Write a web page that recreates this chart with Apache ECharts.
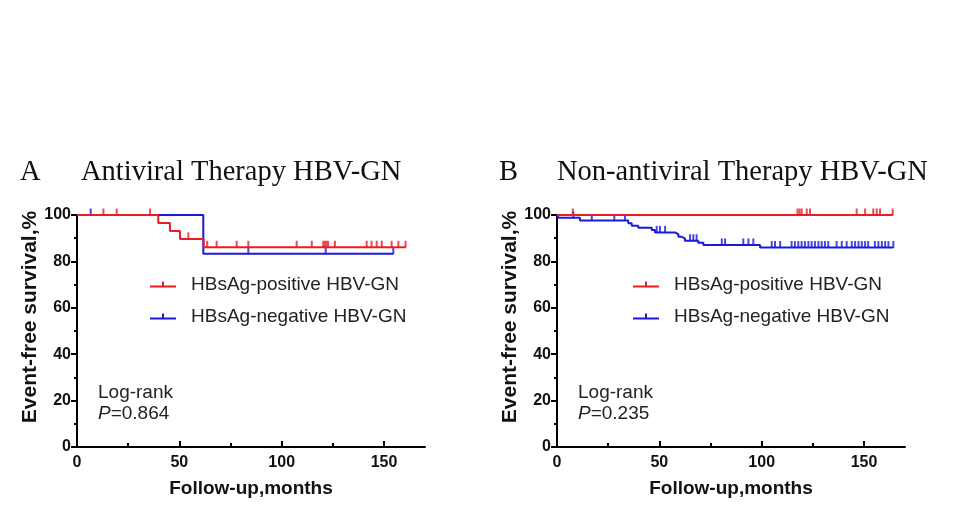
<!DOCTYPE html>
<html>
<head>
<meta charset="utf-8">
<script src="https://cdn.jsdelivr.net/npm/echarts@6/dist/echarts.min.js"></script>
<style>html,body{margin:0;padding:0;background:#fff;}#c{width:960px;height:516px;}</style>
</head>
<body>
<div id="c"></div>
<script>
// ---------- data ----------
const xMajorTicks = [0, 50, 100, 150];
const xMinorTicks = [25, 75, 125];
const seriesNames = ['HBsAg-positive HBV-GN', 'HBsAg-negative HBV-GN'];
const panelTitles = ['Antiviral Therapy HBV-GN', 'Non-antiviral Therapy HBV-GN'];
const panelLetters = ['A', 'B'];
const pValues = ['0.864', '0.235'];

// Panel A (antiviral)
const aPosTimes = [0, 39.7, 45.4, 50.3, 61.9, 160.5];
const aPosSurv  = [100, 96.6, 93.1, 89.7, 86.1, 86.1];
const aPosCensor = [12.9, 19.4, 35.7, 54.4, 63.6, 68.2, 78, 83.7, 107.3, 114.7, 120.3, 121.1, 121.9, 122.7, 126, 141.5, 143.9, 146.4, 148.9, 153.7, 157, 160.5];
const aNegTimes = [0, 61.7, 154.5];
const aNegSurv  = [100, 83.3, 83.3];
const aNegCensor = [6.7, 83.7, 121.5, 154.5];

// Panel B (non-antiviral)
const bPosTimes = [0, 164];
const bPosSurv  = [100, 100];
const bPosCensor = [7.7, 117.5, 118.5, 119.5, 122, 123.6, 146.4, 150.5, 154.5, 156.2, 157.8, 164];
const bNegTimes = [0, 0.8, 11.2, 34.8, 36.5, 39.7, 46.3, 47.9, 57.6, 59.3, 60.9, 62.5, 69.0, 71.5, 99.2, 164.3];
const bNegSurv  = [100, 98.8, 97.6, 96.4, 95.4, 94.5, 93.5, 92.5, 91.7, 90.6, 89.9, 88.9, 88.0, 87.1, 86.0, 86.0];
const bNegCensor = [8, 17, 28, 33.2, 48.7, 50.3, 52.8, 65, 66.6, 68.2, 80.5, 82.1, 91, 93.5, 95.9, 104.9, 106.5, 109, 114.6, 116.2, 117.9, 119.5, 121.1, 122.8, 124.4, 126, 127.7, 129.3, 130.9, 132.5, 136.6, 139.1, 141.5, 144, 145.6, 147.3, 148.9, 150.5, 152, 155.3, 157, 158.7, 160.3, 161.9, 164.3];

// ---------- helpers ----------
const RED = '#ec1c24';
const BLUE = '#1a1ad8';
const SANS = 'Liberation Sans, Arial, Helvetica, sans-serif';
const SERIF = 'Liberation Serif, Times New Roman, serif';

function pairs(times, surv) { return times.map((t, i) => [t, surv[i]]); }
function survAt(times, surv, t) {
  let s = surv[0];
  for (let i = 0; i < times.length; i++) { if (times[i] <= t) s = surv[i]; }
  return s;
}
function censorPts(times, surv, cens) { return cens.map(t => [t, survAt(times, surv, t)]); }

const panels = [
  { pos: [aPosTimes, aPosSurv, aPosCensor], neg: [aNegTimes, aNegSurv, aNegCensor] },
  { pos: [bPosTimes, bPosSurv, bPosCensor], neg: [bNegTimes, bNegSurv, bNegCensor] }
];

const gridLefts = [77, 557];
const grids = gridLefts.map(l => ({ left: l, top: 215, width: 348, height: 232, containLabel: false }));

const axisLineStyle = { color: '#000', width: 2 };
const xAxes = [], yAxes = [], series = [];
panels.forEach((p, g) => {
  xAxes.push({
    gridIndex: g, type: 'value', min: 0, max: 170, interval: 50, position: 'bottom',
    axisLine: { show: true, onZero: false, lineStyle: axisLineStyle },
    axisTick: { show: true, inside: true, length: 6, lineStyle: axisLineStyle, customValues: xMajorTicks },
    axisLabel: { show: true, customValues: xMajorTicks, margin: 8, color: '#111', fontSize: 16, fontWeight: 'bold', fontFamily: SANS,
      formatter: v => xMajorTicks.includes(v) ? String(v) : '' },
    minorTick: { show: false }, splitLine: { show: false },
    name: 'Follow-up,months', nameLocation: 'middle', nameGap: 32,
    nameTextStyle: { color: '#111', fontSize: 19, fontWeight: 'bold', fontFamily: SANS }
  });
  xAxes.push({
    gridIndex: g, type: 'value', min: 0, max: 170, position: 'bottom',
    axisLine: { show: false, onZero: false },
    axisTick: { show: true, inside: true, length: 4, lineStyle: axisLineStyle, customValues: xMinorTicks },
    axisLabel: { show: false }, splitLine: { show: false }, minorTick: { show: false }
  });
  yAxes.push({
    gridIndex: g, type: 'value', min: 0, max: 100, interval: 20,
    axisLine: { show: true, onZero: false, lineStyle: axisLineStyle },
    axisTick: { show: true, inside: false, length: 6, lineStyle: axisLineStyle },
    minorTick: { show: true, splitNumber: 2, length: 3, lineStyle: axisLineStyle },
    axisLabel: { margin: 6, color: '#111', fontSize: 16, fontWeight: 'bold', fontFamily: SANS },
    splitLine: { show: false }, minorSplitLine: { show: false },
    name: 'Event-free survival,%', nameLocation: 'middle', nameGap: 36,
    nameTextStyle: { color: '#111', fontSize: 21, fontWeight: 'bold', fontFamily: SANS, padding: [0, 0, 0, 28] }
  });
  const xi = g * 2;
  // negative first (below), positive on top
  [['neg', BLUE, seriesNames[1], 3], ['pos', RED, seriesNames[0], 4]].forEach(([k, col, nm, z]) => {
    const [t, s, c] = p[k];
    series.push({
      type: 'line', name: nm, xAxisIndex: xi, yAxisIndex: g, step: 'end',
      data: pairs(t, s), showSymbol: false, symbol: 'none', z: z,
      lineStyle: { color: col, width: 2 }, itemStyle: { color: col }, animation: false, silent: true
    });
    series.push({
      type: 'scatter', name: 'censor-' + k + '-' + g, xAxisIndex: xi, yAxisIndex: g,
      data: censorPts(t, s, c), symbol: 'rect', symbolSize: [2, 7], symbolOffset: [0, -3], z: z,
      itemStyle: { color: col }, animation: false, silent: true
    });
  });
});

const titles = [];
[[20, 81], [499, 557]].forEach(([lx, tx], i) => {
  titles.push({ text: panelLetters[i], left: lx, top: 158, padding: 0,
    textStyle: { fontFamily: SERIF, fontSize: 28.5, fontWeight: 'normal', color: '#111' } });
  titles.push({ text: panelTitles[i], left: tx, top: 158, padding: 0,
    textStyle: { fontFamily: SERIF, fontSize: 28.5, fontWeight: 'normal', color: '#111' } });
  titles.push({ text: 'Log-rank\n{i|P}=' + pValues[i], left: gridLefts[i] + 21, top: 382, padding: 0,
    textStyle: { fontFamily: SANS, fontSize: 19, fontWeight: 'normal', color: '#222', lineHeight: 21,
      rich: { i: { fontStyle: 'italic', fontFamily: SANS, fontSize: 19, color: '#222', lineHeight: 21 } } } });
});

const legendIcon = 'path://M0,4 L12,4 L12,0 L14,0 L14,4 L26,4 L26,6 L0,6 Z';
const legends = [150, 633].map(l => ({
  orient: 'vertical', left: l, top: 275, itemWidth: 26, itemHeight: 6, itemGap: 13,
  icon: legendIcon, selectedMode: false, padding: 0,
  data: [{ name: seriesNames[0] }, { name: seriesNames[1] }],
  textStyle: { fontSize: 19, color: '#222', fontFamily: SANS, padding: [0, 0, 0, 10] }
}));

const chart = echarts.init(document.getElementById('c'), null, { renderer: 'canvas' });
chart.setOption({
  backgroundColor: '#fff',
  animation: false,
  title: titles,
  legend: legends,
  grid: grids,
  xAxis: xAxes,
  yAxis: yAxes,
  series: series
});
</script>
</body>
</html>
